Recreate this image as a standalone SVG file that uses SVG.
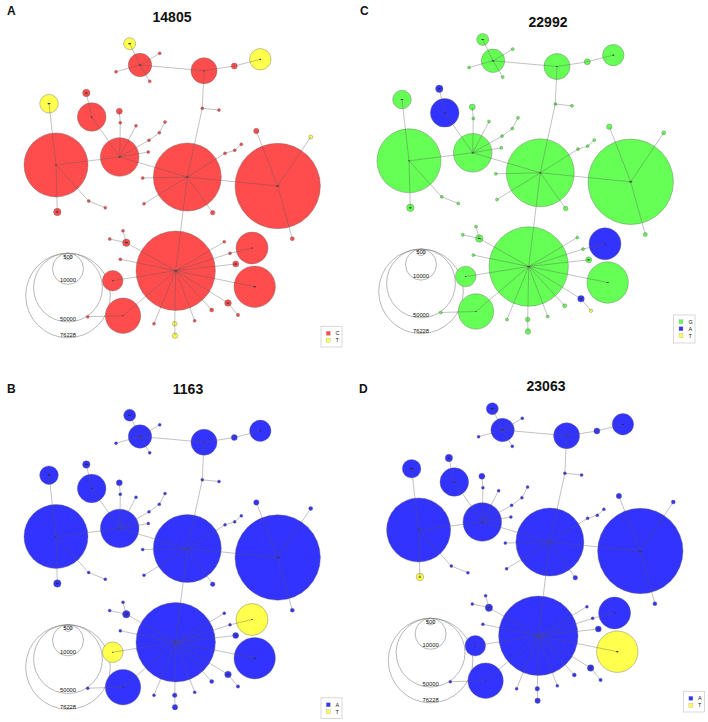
<svg xmlns="http://www.w3.org/2000/svg" xmlns:xlink="http://www.w3.org/1999/xlink" width="708" height="722" viewBox="0 0 708 722">
<style>
text{font-family:"Liberation Sans",Arial,sans-serif;fill:#111}
.ttl{font-size:14px;font-weight:bold;text-anchor:middle}
.pl{font-size:12px;font-weight:bold}
.sc{font-size:5.8px;text-anchor:middle;fill:#111}
.lg{font-size:5.5px;fill:#222}
circle{stroke:#666;stroke-width:.4}
.r{fill:#ff4d4d}.g{fill:#66ff55}.b{fill:#3333ff}.y{fill:#ffff4d}
.l{fill:#222;stroke:none}
.s{fill:none;stroke:#7a7a7a;stroke-width:.55}
.e line{stroke:#555;stroke-width:.45;stroke-opacity:.8}
.lb{fill:#fff;stroke:#c8c8c8;stroke-width:.7}
.sq{stroke:#999;stroke-width:.3}
</style>
<defs>
<g id="net-edges" class="e">
<line x1="129.7" y1="43.7" x2="140" y2="65"/>
<line x1="140" y1="65" x2="159.7" y2="53.3"/>
<line x1="140" y1="65" x2="116" y2="71.7"/>
<line x1="140" y1="65" x2="149.7" y2="81.3"/>
<line x1="140" y1="65" x2="204" y2="70.7"/>
<line x1="204" y1="70.7" x2="234.3" y2="66"/>
<line x1="234.3" y1="66" x2="260.3" y2="59.3"/>
<line x1="204" y1="70.7" x2="202.3" y2="108.3"/>
<line x1="202.3" y1="108.3" x2="219" y2="110"/>
<line x1="202.3" y1="108.3" x2="187.3" y2="177"/>
<line x1="49" y1="103.7" x2="56" y2="165"/>
<line x1="86.3" y1="93" x2="91.7" y2="117"/>
<line x1="91.7" y1="117" x2="119.7" y2="157"/>
<line x1="119.7" y1="157" x2="120.3" y2="122.7"/>
<line x1="120.3" y1="122.7" x2="119.3" y2="111.3"/>
<line x1="119.7" y1="157" x2="136" y2="125.7"/>
<line x1="119.7" y1="157" x2="149" y2="140.3"/>
<line x1="149" y1="140.3" x2="159.3" y2="132.7"/>
<line x1="159.3" y1="132.7" x2="165" y2="122"/>
<line x1="119.7" y1="157" x2="148.3" y2="152"/>
<line x1="119.7" y1="157" x2="56" y2="165"/>
<line x1="119.7" y1="157" x2="187.3" y2="177"/>
<line x1="187.3" y1="177" x2="277.7" y2="186"/>
<line x1="187.3" y1="177" x2="225" y2="153.3"/>
<line x1="225" y1="153.3" x2="234.7" y2="150.3"/>
<line x1="234.7" y1="150.3" x2="241.3" y2="144.3"/>
<line x1="187.3" y1="177" x2="142.7" y2="178"/>
<line x1="277.7" y1="186" x2="256.3" y2="131"/>
<line x1="277.7" y1="186" x2="310.7" y2="137"/>
<line x1="56" y1="165" x2="88.7" y2="201"/>
<line x1="88.7" y1="201" x2="105.3" y2="207.7"/>
<line x1="56" y1="165" x2="57.3" y2="212"/>
<line x1="187.3" y1="177" x2="144" y2="203.7"/>
<line x1="187.3" y1="177" x2="212.7" y2="212.7"/>
<line x1="187.3" y1="177" x2="175.7" y2="270.7"/>
<line x1="277.7" y1="186" x2="292.3" y2="238.7"/>
<line x1="175.7" y1="270.7" x2="126.3" y2="242.7"/>
<line x1="126.3" y1="242.7" x2="109.7" y2="239"/>
<line x1="126.3" y1="242.7" x2="123" y2="230.7"/>
<line x1="175.7" y1="270.7" x2="120.3" y2="259.3"/>
<line x1="175.7" y1="270.7" x2="112.7" y2="280.7"/>
<line x1="175.7" y1="270.7" x2="123" y2="315.7"/>
<line x1="123" y1="315.7" x2="87.7" y2="316.7"/>
<line x1="175.7" y1="270.7" x2="154" y2="323.7"/>
<line x1="175.7" y1="270.7" x2="174.7" y2="323.7"/>
<line x1="174.7" y1="323.7" x2="175" y2="335.7"/>
<line x1="175.7" y1="270.7" x2="194.7" y2="320.7"/>
<line x1="175.7" y1="270.7" x2="211.7" y2="310"/>
<line x1="175.7" y1="270.7" x2="228" y2="303"/>
<line x1="228" y1="303" x2="238" y2="315"/>
<line x1="175.7" y1="270.7" x2="254.7" y2="286.7"/>
<line x1="175.7" y1="270.7" x2="235.7" y2="264"/>
<line x1="175.7" y1="270.7" x2="230" y2="253.3"/>
<line x1="230" y1="253.3" x2="252" y2="248"/>
<line x1="175.7" y1="270.7" x2="224.3" y2="241.7"/>
</g>
<g id="scale-circles">
<circle class="s" cx="68" cy="256.6" r="3.4"/>
<circle class="s" cx="68" cy="268.8" r="15.5"/>
<circle class="s" cx="68" cy="287.6" r="34.4"/>
<circle class="s" cx="68" cy="295.5" r="42.3"/>
<text class="sc" x="68" y="258.7">500</text>
<text class="sc" x="68" y="282.4">10000</text>
<text class="sc" x="68" y="320.8">50000</text>
<text class="sc" x="68" y="337.4">76228</text>
</g>
</defs>

<text class="pl" x="7" y="15">A</text>
<text class="ttl" x="172" y="22">14805</text>
<text class="pl" x="360" y="15">C</text>
<text class="ttl" x="548" y="27">22992</text>
<text class="pl" x="7" y="393">B</text>
<text class="ttl" x="188" y="394">1163</text>
<text class="pl" x="359" y="393">D</text>
<text class="ttl" x="546" y="391">23063</text>

<!-- Panel A -->
<g id="panelA" transform="translate(0,0)">
<g id="A-scale"><use xlink:href="#scale-circles" href="#scale-circles"/></g>
<g id="A-n1"><circle cx="129.7" cy="43.7" r="6" class="y"/><ellipse cx="129.7" cy="43.7" rx="1.5" ry=".6" class="l"/></g>
<g id="A-n2"><circle cx="140" cy="65" r="11.7" class="r"/><ellipse cx="140" cy="65" rx="1.5" ry=".6" class="l"/></g>
<g id="A-n3"><circle cx="159.7" cy="53.3" r="1.5" class="r"/></g>
<g id="A-n4"><circle cx="116" cy="71.7" r="1.5" class="r"/></g>
<g id="A-n5"><circle cx="149.7" cy="81.3" r="1.5" class="r"/></g>
<g id="A-n6"><circle cx="204" cy="70.7" r="13" class="r"/><ellipse cx="204" cy="70.7" rx=".8" ry=".5" class="l"/></g>
<g id="A-n7"><circle cx="234.3" cy="66" r="3" class="r"/></g>
<g id="A-n8"><circle cx="260.3" cy="59.3" r="10.7" class="y"/><ellipse cx="260.3" cy="59.3" rx="1" ry=".6" class="l"/></g>
<g id="A-n9"><circle cx="49" cy="103.7" r="9.3" class="y"/><ellipse cx="49" cy="103.7" rx="1.5" ry=".6" class="l"/></g>
<g id="A-n10"><circle cx="86.3" cy="93" r="3.7" class="r"/><ellipse cx="86.3" cy="93" rx="1.5" ry=".6" class="l"/></g>
<g id="A-n11"><circle cx="91.7" cy="117" r="14.3" class="r"/><ellipse cx="91.7" cy="117" rx="1" ry=".6" class="l"/></g>
<g id="A-n12"><circle cx="119.3" cy="111.3" r="3" class="r"/></g>
<g id="A-n13"><circle cx="120.3" cy="122.7" r="1.5" class="r"/></g>
<g id="A-n14"><circle cx="136" cy="125.7" r="1.5" class="r"/></g>
<g id="A-n15"><circle cx="165" cy="122" r="1.5" class="r"/></g>
<g id="A-n16"><circle cx="159.3" cy="132.7" r="1.5" class="r"/></g>
<g id="A-n17"><circle cx="149" cy="140.3" r="1.5" class="r"/></g>
<g id="A-n18"><circle cx="148.3" cy="152" r="1.5" class="r"/></g>
<g id="A-n19"><circle cx="119.7" cy="157" r="19.3" class="r"/><ellipse cx="119.7" cy="157" rx="1.2" ry=".6" class="l"/></g>
<g id="A-n20"><circle cx="56" cy="165" r="32" class="r"/><ellipse cx="56" cy="165" rx=".8" ry=".6" class="l"/></g>
<g id="A-n21"><circle cx="187.3" cy="177" r="34" class="r"/><ellipse cx="187.3" cy="177" rx="1.2" ry=".6" class="l"/></g>
<g id="A-n22"><circle cx="277.7" cy="186" r="42.7" class="r"/><ellipse cx="277.7" cy="186" rx="1.8" ry=".6" class="l"/></g>
<g id="A-n23"><circle cx="202.3" cy="108.3" r="1.5" class="r"/></g>
<g id="A-n24"><circle cx="219" cy="110" r="1.5" class="r"/></g>
<g id="A-n25"><circle cx="256.3" cy="131" r="2.7" class="r"/></g>
<g id="A-n26"><circle cx="310.7" cy="137" r="2" class="y"/></g>
<g id="A-n27"><circle cx="225" cy="153.3" r="1.5" class="r"/></g>
<g id="A-n28"><circle cx="234.7" cy="150.3" r="1.5" class="r"/></g>
<g id="A-n29"><circle cx="241.3" cy="144.3" r="1.5" class="r"/></g>
<g id="A-n30"><circle cx="142.7" cy="178" r="1.5" class="r"/></g>
<g id="A-n31"><circle cx="88.7" cy="201" r="1.5" class="r"/></g>
<g id="A-n32"><circle cx="105.3" cy="207.7" r="1.5" class="r"/></g>
<g id="A-n33"><circle cx="144" cy="203.7" r="1.5" class="r"/></g>
<g id="A-n34"><circle cx="212.7" cy="212.7" r="2.3" class="r"/></g>
<g id="A-n35"><circle cx="57.3" cy="212" r="3.7" class="r"/><ellipse cx="57.3" cy="212" rx="1.5" ry=".6" class="l"/></g>
<g id="A-n36"><circle cx="292.3" cy="238.7" r="2" class="r"/></g>
<g id="A-n37"><circle cx="175.7" cy="270.7" r="39.7" class="r"/><ellipse cx="175.7" cy="270.7" rx="1.5" ry=".6" class="l"/></g>
<g id="A-n38"><circle cx="123" cy="230.7" r="1.5" class="r"/></g>
<g id="A-n39"><circle cx="126.3" cy="242.7" r="3.7" class="r"/><ellipse cx="126.3" cy="242.7" rx="1.6" ry=".6" class="l"/></g>
<g id="A-n40"><circle cx="109.7" cy="239" r="1.5" class="r"/></g>
<g id="A-n41"><circle cx="120.3" cy="259.3" r="1.5" class="r"/></g>
<g id="A-n42"><circle cx="112.7" cy="280.7" r="10.3" class="r"/><ellipse cx="112.7" cy="280.7" rx=".7" ry=".5" class="l"/></g>
<g id="A-n43"><circle cx="123" cy="315.7" r="17.7" class="r"/><ellipse cx="123" cy="315.7" rx=".7" ry=".5" class="l"/></g>
<g id="A-n44"><circle cx="87.7" cy="316.7" r="1.5" class="r"/></g>
<g id="A-n45"><circle cx="154" cy="323.7" r="1.5" class="r"/></g>
<g id="A-n46"><circle cx="174.7" cy="323.7" r="2.3" class="y"/></g>
<g id="A-n47"><circle cx="175" cy="335.7" r="2.7" class="y"/></g>
<g id="A-n48"><circle cx="194.7" cy="320.7" r="1.5" class="r"/></g>
<g id="A-n49"><circle cx="211.7" cy="310" r="2" class="r"/></g>
<g id="A-n50"><circle cx="228" cy="303" r="3.3" class="r"/><ellipse cx="228" cy="303" rx="1.5" ry=".6" class="l"/></g>
<g id="A-n51"><circle cx="238" cy="315" r="1.7" class="r"/></g>
<g id="A-n52"><circle cx="254.7" cy="286.7" r="20.7" class="r"/><ellipse cx="254.7" cy="286.7" rx="1.2" ry=".6" class="l"/></g>
<g id="A-n53"><circle cx="235.7" cy="264" r="3" class="r"/><ellipse cx="235.7" cy="264" rx="1.4" ry=".6" class="l"/></g>
<g id="A-n54"><circle cx="230" cy="253.3" r="1.5" class="r"/></g>
<g id="A-n55"><circle cx="224.3" cy="241.7" r="1.5" class="r"/></g>
<g id="A-n56"><circle cx="252" cy="248" r="16" class="r"/><ellipse cx="252" cy="248" rx=".8" ry=".5" class="l"/></g>
<g id="A-connectors"><use xlink:href="#net-edges" href="#net-edges"/></g>
<g id="A-legend">
<rect class="lb" x="321" y="326.3" width="21" height="20.7"/>
<rect class="sq r" x="326.3" y="331.3" width="4" height="4"/>
<text class="lg" x="335.5" y="335.3">C</text>
<rect class="sq y" x="326.3" y="338.3" width="4" height="4"/>
<text class="lg" x="335.5" y="342.3">T</text>
</g>
</g>

<!-- Panel C -->
<g id="panelC" transform="translate(353,-4.2)">
<g id="C-scale"><use xlink:href="#scale-circles" href="#scale-circles"/></g>
<g id="C-n1"><circle cx="129.7" cy="43.7" r="6" class="g"/><ellipse cx="129.7" cy="43.7" rx="1.5" ry=".6" class="l"/></g>
<g id="C-n2"><circle cx="140" cy="65" r="11.7" class="g"/><ellipse cx="140" cy="65" rx="1.5" ry=".6" class="l"/></g>
<g id="C-n3"><circle cx="159.7" cy="53.3" r="1.5" class="g"/></g>
<g id="C-n4"><circle cx="116" cy="71.7" r="1.5" class="g"/></g>
<g id="C-n5"><circle cx="149.7" cy="81.3" r="1.5" class="g"/></g>
<g id="C-n6"><circle cx="204" cy="70.7" r="13" class="g"/><ellipse cx="204" cy="70.7" rx=".8" ry=".5" class="l"/></g>
<g id="C-n7"><circle cx="234.3" cy="66" r="3" class="g"/></g>
<g id="C-n8"><circle cx="260.3" cy="59.3" r="10.7" class="g"/><ellipse cx="260.3" cy="59.3" rx="1" ry=".6" class="l"/></g>
<g id="C-n9"><circle cx="49" cy="103.7" r="9.3" class="g"/><ellipse cx="49" cy="103.7" rx="1.5" ry=".6" class="l"/></g>
<g id="C-n10"><circle cx="86.3" cy="93" r="3.7" class="b"/><ellipse cx="86.3" cy="93" rx="1.5" ry=".6" class="l"/></g>
<g id="C-n11"><circle cx="91.7" cy="117" r="14.3" class="b"/><ellipse cx="91.7" cy="117" rx="1" ry=".6" class="l"/></g>
<g id="C-n12"><circle cx="119.3" cy="111.3" r="3" class="g"/></g>
<g id="C-n13"><circle cx="120.3" cy="122.7" r="1.5" class="g"/></g>
<g id="C-n14"><circle cx="136" cy="125.7" r="1.5" class="g"/></g>
<g id="C-n15"><circle cx="165" cy="122" r="1.5" class="g"/></g>
<g id="C-n16"><circle cx="159.3" cy="132.7" r="1.5" class="g"/></g>
<g id="C-n17"><circle cx="149" cy="140.3" r="1.5" class="g"/></g>
<g id="C-n18"><circle cx="148.3" cy="152" r="1.5" class="g"/></g>
<g id="C-n19"><circle cx="119.7" cy="157" r="19.3" class="g"/><ellipse cx="119.7" cy="157" rx="1.2" ry=".6" class="l"/></g>
<g id="C-n20"><circle cx="56" cy="165" r="32" class="g"/><ellipse cx="56" cy="165" rx=".8" ry=".6" class="l"/></g>
<g id="C-n21"><circle cx="187.3" cy="177" r="34" class="g"/><ellipse cx="187.3" cy="177" rx="1.2" ry=".6" class="l"/></g>
<g id="C-n22"><circle cx="277.7" cy="186" r="42.7" class="g"/><ellipse cx="277.7" cy="186" rx="1.8" ry=".6" class="l"/></g>
<g id="C-n23"><circle cx="202.3" cy="108.3" r="1.5" class="g"/></g>
<g id="C-n24"><circle cx="219" cy="110" r="1.5" class="g"/></g>
<g id="C-n25"><circle cx="256.3" cy="131" r="2.7" class="g"/></g>
<g id="C-n26"><circle cx="310.7" cy="137" r="2" class="g"/></g>
<g id="C-n27"><circle cx="225" cy="153.3" r="1.5" class="g"/></g>
<g id="C-n28"><circle cx="234.7" cy="150.3" r="1.5" class="g"/></g>
<g id="C-n29"><circle cx="241.3" cy="144.3" r="1.5" class="g"/></g>
<g id="C-n30"><circle cx="142.7" cy="178" r="1.5" class="g"/></g>
<g id="C-n31"><circle cx="88.7" cy="201" r="1.5" class="g"/></g>
<g id="C-n32"><circle cx="105.3" cy="207.7" r="1.5" class="g"/></g>
<g id="C-n33"><circle cx="144" cy="203.7" r="1.5" class="g"/></g>
<g id="C-n34"><circle cx="212.7" cy="212.7" r="2.3" class="g"/></g>
<g id="C-n35"><circle cx="57.3" cy="212" r="3.7" class="g"/><ellipse cx="57.3" cy="212" rx="1.5" ry=".6" class="l"/></g>
<g id="C-n36"><circle cx="292.3" cy="238.7" r="2" class="g"/></g>
<g id="C-n37"><circle cx="175.7" cy="270.7" r="39.7" class="g"/><ellipse cx="175.7" cy="270.7" rx="1.5" ry=".6" class="l"/></g>
<g id="C-n38"><circle cx="123" cy="230.7" r="1.5" class="g"/></g>
<g id="C-n39"><circle cx="126.3" cy="242.7" r="3.7" class="g"/><ellipse cx="126.3" cy="242.7" rx="1.6" ry=".6" class="l"/></g>
<g id="C-n40"><circle cx="109.7" cy="239" r="1.5" class="g"/></g>
<g id="C-n41"><circle cx="120.3" cy="259.3" r="1.5" class="g"/></g>
<g id="C-n42"><circle cx="112.7" cy="280.7" r="10.3" class="g"/><ellipse cx="112.7" cy="280.7" rx=".7" ry=".5" class="l"/></g>
<g id="C-n43"><circle cx="123" cy="315.7" r="17.7" class="g"/><ellipse cx="123" cy="315.7" rx=".7" ry=".5" class="l"/></g>
<g id="C-n44"><circle cx="87.7" cy="316.7" r="1.5" class="g"/></g>
<g id="C-n45"><circle cx="154" cy="323.7" r="1.5" class="g"/></g>
<g id="C-n46"><circle cx="174.7" cy="323.7" r="2.3" class="g"/></g>
<g id="C-n47"><circle cx="175" cy="335.7" r="2.7" class="g"/></g>
<g id="C-n48"><circle cx="194.7" cy="320.7" r="1.5" class="g"/></g>
<g id="C-n49"><circle cx="211.7" cy="310" r="2" class="g"/></g>
<g id="C-n50"><circle cx="228" cy="303" r="3.3" class="b"/><ellipse cx="228" cy="303" rx="1.5" ry=".6" class="l"/></g>
<g id="C-n51"><circle cx="238" cy="315" r="1.7" class="y"/></g>
<g id="C-n52"><circle cx="254.7" cy="286.7" r="20.7" class="g"/><ellipse cx="254.7" cy="286.7" rx="1.2" ry=".6" class="l"/></g>
<g id="C-n53"><circle cx="235.7" cy="264" r="3" class="g"/><ellipse cx="235.7" cy="264" rx="1.4" ry=".6" class="l"/></g>
<g id="C-n54"><circle cx="230" cy="253.3" r="1.5" class="g"/></g>
<g id="C-n55"><circle cx="224.3" cy="241.7" r="1.5" class="g"/></g>
<g id="C-n56"><circle cx="252" cy="248" r="16" class="b"/><ellipse cx="252" cy="248" rx=".8" ry=".5" class="l"/></g>
<g id="C-connectors"><use xlink:href="#net-edges" href="#net-edges"/></g>
<g id="C-legend">
<rect class="lb" x="320.5" y="319.2" width="21.5" height="28"/>
<rect class="sq g" x="326" y="324" width="4" height="4"/>
<text class="lg" x="335.5" y="328">G</text>
<rect class="sq b" x="326" y="331" width="4" height="4"/>
<text class="lg" x="335.5" y="335">A</text>
<rect class="sq y" x="326" y="338" width="4" height="4"/>
<text class="lg" x="335.5" y="342">T</text>
</g>
</g>

<!-- Panel B -->
<g id="panelB" transform="translate(0,371.5)">
<g id="B-scale"><use xlink:href="#scale-circles" href="#scale-circles"/></g>
<g id="B-n1"><circle cx="129.7" cy="43.7" r="6" class="b"/><ellipse cx="129.7" cy="43.7" rx="1.5" ry=".6" class="l"/></g>
<g id="B-n2"><circle cx="140" cy="65" r="11.7" class="b"/><ellipse cx="140" cy="65" rx="1.5" ry=".6" class="l"/></g>
<g id="B-n3"><circle cx="159.7" cy="53.3" r="1.5" class="b"/></g>
<g id="B-n4"><circle cx="116" cy="71.7" r="1.5" class="b"/></g>
<g id="B-n5"><circle cx="149.7" cy="81.3" r="1.5" class="b"/></g>
<g id="B-n6"><circle cx="204" cy="70.7" r="13" class="b"/><ellipse cx="204" cy="70.7" rx=".8" ry=".5" class="l"/></g>
<g id="B-n7"><circle cx="234.3" cy="66" r="3" class="b"/></g>
<g id="B-n8"><circle cx="260.3" cy="59.3" r="10.7" class="b"/><ellipse cx="260.3" cy="59.3" rx="1" ry=".6" class="l"/></g>
<g id="B-n9"><circle cx="49" cy="103.7" r="9.3" class="b"/><ellipse cx="49" cy="103.7" rx="1.5" ry=".6" class="l"/></g>
<g id="B-n10"><circle cx="86.3" cy="93" r="3.7" class="b"/><ellipse cx="86.3" cy="93" rx="1.5" ry=".6" class="l"/></g>
<g id="B-n11"><circle cx="91.7" cy="117" r="14.3" class="b"/><ellipse cx="91.7" cy="117" rx="1" ry=".6" class="l"/></g>
<g id="B-n12"><circle cx="119.3" cy="111.3" r="3" class="b"/></g>
<g id="B-n13"><circle cx="120.3" cy="122.7" r="1.5" class="b"/></g>
<g id="B-n14"><circle cx="136" cy="125.7" r="1.5" class="b"/></g>
<g id="B-n15"><circle cx="165" cy="122" r="1.5" class="b"/></g>
<g id="B-n16"><circle cx="159.3" cy="132.7" r="1.5" class="b"/></g>
<g id="B-n17"><circle cx="149" cy="140.3" r="1.5" class="b"/></g>
<g id="B-n18"><circle cx="148.3" cy="152" r="1.5" class="b"/></g>
<g id="B-n19"><circle cx="119.7" cy="157" r="19.3" class="b"/><ellipse cx="119.7" cy="157" rx="1.2" ry=".6" class="l"/></g>
<g id="B-n20"><circle cx="56" cy="165" r="32" class="b"/><ellipse cx="56" cy="165" rx=".8" ry=".6" class="l"/></g>
<g id="B-n21"><circle cx="187.3" cy="177" r="34" class="b"/><ellipse cx="187.3" cy="177" rx="1.2" ry=".6" class="l"/></g>
<g id="B-n22"><circle cx="277.7" cy="186" r="42.7" class="b"/><ellipse cx="277.7" cy="186" rx="1.8" ry=".6" class="l"/></g>
<g id="B-n23"><circle cx="202.3" cy="108.3" r="1.5" class="b"/></g>
<g id="B-n24"><circle cx="219" cy="110" r="1.5" class="b"/></g>
<g id="B-n25"><circle cx="256.3" cy="131" r="2.7" class="b"/></g>
<g id="B-n26"><circle cx="310.7" cy="137" r="2" class="b"/></g>
<g id="B-n27"><circle cx="225" cy="153.3" r="1.5" class="b"/></g>
<g id="B-n28"><circle cx="234.7" cy="150.3" r="1.5" class="b"/></g>
<g id="B-n29"><circle cx="241.3" cy="144.3" r="1.5" class="b"/></g>
<g id="B-n30"><circle cx="142.7" cy="178" r="1.5" class="b"/></g>
<g id="B-n31"><circle cx="88.7" cy="201" r="1.5" class="b"/></g>
<g id="B-n32"><circle cx="105.3" cy="207.7" r="1.5" class="b"/></g>
<g id="B-n33"><circle cx="144" cy="203.7" r="1.5" class="b"/></g>
<g id="B-n34"><circle cx="212.7" cy="212.7" r="2.3" class="b"/></g>
<g id="B-n35"><circle cx="57.3" cy="212" r="3.7" class="b"/><ellipse cx="57.3" cy="212" rx="1.5" ry=".6" class="l"/></g>
<g id="B-n36"><circle cx="292.3" cy="238.7" r="2" class="b"/></g>
<g id="B-n37"><circle cx="175.7" cy="270.7" r="39.7" class="b"/><ellipse cx="175.7" cy="270.7" rx="1.5" ry=".6" class="l"/></g>
<g id="B-n38"><circle cx="123" cy="230.7" r="1.5" class="b"/></g>
<g id="B-n39"><circle cx="126.3" cy="242.7" r="3.7" class="b"/><ellipse cx="126.3" cy="242.7" rx="1.6" ry=".6" class="l"/></g>
<g id="B-n40"><circle cx="109.7" cy="239" r="1.5" class="b"/></g>
<g id="B-n41"><circle cx="120.3" cy="259.3" r="1.5" class="b"/></g>
<g id="B-n42"><circle cx="112.7" cy="280.7" r="10.3" class="y"/><ellipse cx="112.7" cy="280.7" rx=".7" ry=".5" class="l"/></g>
<g id="B-n43"><circle cx="123" cy="315.7" r="17.7" class="b"/><ellipse cx="123" cy="315.7" rx=".7" ry=".5" class="l"/></g>
<g id="B-n44"><circle cx="87.7" cy="316.7" r="1.5" class="b"/></g>
<g id="B-n45"><circle cx="154" cy="323.7" r="1.5" class="b"/></g>
<g id="B-n46"><circle cx="174.7" cy="323.7" r="2.3" class="b"/></g>
<g id="B-n47"><circle cx="175" cy="335.7" r="2.7" class="b"/></g>
<g id="B-n48"><circle cx="194.7" cy="320.7" r="1.5" class="b"/></g>
<g id="B-n49"><circle cx="211.7" cy="310" r="2" class="b"/></g>
<g id="B-n50"><circle cx="228" cy="303" r="3.3" class="b"/><ellipse cx="228" cy="303" rx="1.5" ry=".6" class="l"/></g>
<g id="B-n51"><circle cx="238" cy="315" r="1.7" class="b"/></g>
<g id="B-n52"><circle cx="254.7" cy="286.7" r="20.7" class="b"/><ellipse cx="254.7" cy="286.7" rx="1.2" ry=".6" class="l"/></g>
<g id="B-n53"><circle cx="235.7" cy="264" r="3" class="b"/><ellipse cx="235.7" cy="264" rx="1.4" ry=".6" class="l"/></g>
<g id="B-n54"><circle cx="230" cy="253.3" r="1.5" class="b"/></g>
<g id="B-n55"><circle cx="224.3" cy="241.7" r="1.5" class="b"/></g>
<g id="B-n56"><circle cx="252" cy="248" r="16" class="y"/><ellipse cx="252" cy="248" rx=".8" ry=".5" class="l"/></g>
<g id="B-connectors"><use xlink:href="#net-edges" href="#net-edges"/></g>
<g id="B-legend">
<rect class="lb" x="321" y="326.3" width="21" height="20.7"/>
<rect class="sq b" x="326.3" y="331.3" width="4" height="4"/>
<text class="lg" x="335.5" y="335.3">A</text>
<rect class="sq y" x="326.3" y="338.3" width="4" height="4"/>
<text class="lg" x="335.5" y="342.3">T</text>
</g>
</g>

<!-- Panel D -->
<g id="panelD" transform="translate(362.6,365)">
<g id="D-scale"><use xlink:href="#scale-circles" href="#scale-circles"/></g>
<g id="D-n1"><circle cx="129.7" cy="43.7" r="6" class="b"/><ellipse cx="129.7" cy="43.7" rx="1.5" ry=".6" class="l"/></g>
<g id="D-n2"><circle cx="140" cy="65" r="11.7" class="b"/><ellipse cx="140" cy="65" rx="1.5" ry=".6" class="l"/></g>
<g id="D-n3"><circle cx="159.7" cy="53.3" r="1.5" class="b"/></g>
<g id="D-n4"><circle cx="116" cy="71.7" r="1.5" class="b"/></g>
<g id="D-n5"><circle cx="149.7" cy="81.3" r="1.5" class="b"/></g>
<g id="D-n6"><circle cx="204" cy="70.7" r="13" class="b"/><ellipse cx="204" cy="70.7" rx=".8" ry=".5" class="l"/></g>
<g id="D-n7"><circle cx="234.3" cy="66" r="3" class="b"/></g>
<g id="D-n8"><circle cx="260.3" cy="59.3" r="10.7" class="b"/><ellipse cx="260.3" cy="59.3" rx="1" ry=".6" class="l"/></g>
<g id="D-n9"><circle cx="49" cy="103.7" r="9.3" class="b"/><ellipse cx="49" cy="103.7" rx="1.5" ry=".6" class="l"/></g>
<g id="D-n10"><circle cx="86.3" cy="93" r="3.7" class="b"/><ellipse cx="86.3" cy="93" rx="1.5" ry=".6" class="l"/></g>
<g id="D-n11"><circle cx="91.7" cy="117" r="14.3" class="b"/><ellipse cx="91.7" cy="117" rx="1" ry=".6" class="l"/></g>
<g id="D-n12"><circle cx="119.3" cy="111.3" r="3" class="b"/></g>
<g id="D-n13"><circle cx="120.3" cy="122.7" r="1.5" class="b"/></g>
<g id="D-n14"><circle cx="136" cy="125.7" r="1.5" class="b"/></g>
<g id="D-n15"><circle cx="165" cy="122" r="1.5" class="b"/></g>
<g id="D-n16"><circle cx="159.3" cy="132.7" r="1.5" class="b"/></g>
<g id="D-n17"><circle cx="149" cy="140.3" r="1.5" class="b"/></g>
<g id="D-n18"><circle cx="148.3" cy="152" r="1.5" class="b"/></g>
<g id="D-n19"><circle cx="119.7" cy="157" r="19.3" class="b"/><ellipse cx="119.7" cy="157" rx="1.2" ry=".6" class="l"/></g>
<g id="D-n20"><circle cx="56" cy="165" r="32" class="b"/><ellipse cx="56" cy="165" rx=".8" ry=".6" class="l"/></g>
<g id="D-n21"><circle cx="187.3" cy="177" r="34" class="b"/><ellipse cx="187.3" cy="177" rx="1.2" ry=".6" class="l"/></g>
<g id="D-n22"><circle cx="277.7" cy="186" r="42.7" class="b"/><ellipse cx="277.7" cy="186" rx="1.8" ry=".6" class="l"/></g>
<g id="D-n23"><circle cx="202.3" cy="108.3" r="1.5" class="b"/></g>
<g id="D-n24"><circle cx="219" cy="110" r="1.5" class="b"/></g>
<g id="D-n25"><circle cx="256.3" cy="131" r="2.7" class="b"/></g>
<g id="D-n26"><circle cx="310.7" cy="137" r="2" class="b"/></g>
<g id="D-n27"><circle cx="225" cy="153.3" r="1.5" class="b"/></g>
<g id="D-n28"><circle cx="234.7" cy="150.3" r="1.5" class="b"/></g>
<g id="D-n29"><circle cx="241.3" cy="144.3" r="1.5" class="b"/></g>
<g id="D-n30"><circle cx="142.7" cy="178" r="1.5" class="b"/></g>
<g id="D-n31"><circle cx="88.7" cy="201" r="1.5" class="b"/></g>
<g id="D-n32"><circle cx="105.3" cy="207.7" r="1.5" class="b"/></g>
<g id="D-n33"><circle cx="144" cy="203.7" r="1.5" class="b"/></g>
<g id="D-n34"><circle cx="212.7" cy="212.7" r="2.3" class="b"/></g>
<g id="D-n35"><circle cx="57.3" cy="212" r="3.7" class="y"/><ellipse cx="57.3" cy="212" rx="1.5" ry=".6" class="l"/></g>
<g id="D-n36"><circle cx="292.3" cy="238.7" r="2" class="b"/></g>
<g id="D-n37"><circle cx="175.7" cy="270.7" r="39.7" class="b"/><ellipse cx="175.7" cy="270.7" rx="1.5" ry=".6" class="l"/></g>
<g id="D-n38"><circle cx="123" cy="230.7" r="1.5" class="b"/></g>
<g id="D-n39"><circle cx="126.3" cy="242.7" r="3.7" class="b"/><ellipse cx="126.3" cy="242.7" rx="1.6" ry=".6" class="l"/></g>
<g id="D-n40"><circle cx="109.7" cy="239" r="1.5" class="b"/></g>
<g id="D-n41"><circle cx="120.3" cy="259.3" r="1.5" class="b"/></g>
<g id="D-n42"><circle cx="112.7" cy="280.7" r="10.3" class="b"/><ellipse cx="112.7" cy="280.7" rx=".7" ry=".5" class="l"/></g>
<g id="D-n43"><circle cx="123" cy="315.7" r="17.7" class="b"/><ellipse cx="123" cy="315.7" rx=".7" ry=".5" class="l"/></g>
<g id="D-n44"><circle cx="87.7" cy="316.7" r="1.5" class="b"/></g>
<g id="D-n45"><circle cx="154" cy="323.7" r="1.5" class="b"/></g>
<g id="D-n46"><circle cx="174.7" cy="323.7" r="2.3" class="b"/></g>
<g id="D-n47"><circle cx="175" cy="335.7" r="2.7" class="b"/></g>
<g id="D-n48"><circle cx="194.7" cy="320.7" r="1.5" class="b"/></g>
<g id="D-n49"><circle cx="211.7" cy="310" r="2" class="b"/></g>
<g id="D-n50"><circle cx="228" cy="303" r="3.3" class="b"/><ellipse cx="228" cy="303" rx="1.5" ry=".6" class="l"/></g>
<g id="D-n51"><circle cx="238" cy="315" r="1.7" class="b"/></g>
<g id="D-n52"><circle cx="254.7" cy="286.7" r="20.7" class="y"/><ellipse cx="254.7" cy="286.7" rx="1.2" ry=".6" class="l"/></g>
<g id="D-n53"><circle cx="235.7" cy="264" r="3" class="b"/><ellipse cx="235.7" cy="264" rx="1.4" ry=".6" class="l"/></g>
<g id="D-n54"><circle cx="230" cy="253.3" r="1.5" class="b"/></g>
<g id="D-n55"><circle cx="224.3" cy="241.7" r="1.5" class="b"/></g>
<g id="D-n56"><circle cx="252" cy="248" r="16" class="b"/><ellipse cx="252" cy="248" rx=".8" ry=".5" class="l"/></g>
<g id="D-connectors"><use xlink:href="#net-edges" href="#net-edges"/></g>
<g id="D-legend">
<rect class="lb" x="321" y="326.3" width="21" height="20.7"/>
<rect class="sq b" x="326.3" y="331.3" width="4" height="4"/>
<text class="lg" x="335.5" y="335.3">A</text>
<rect class="sq y" x="326.3" y="338.3" width="4" height="4"/>
<text class="lg" x="335.5" y="342.3">T</text>
</g>
</g>
</svg>
